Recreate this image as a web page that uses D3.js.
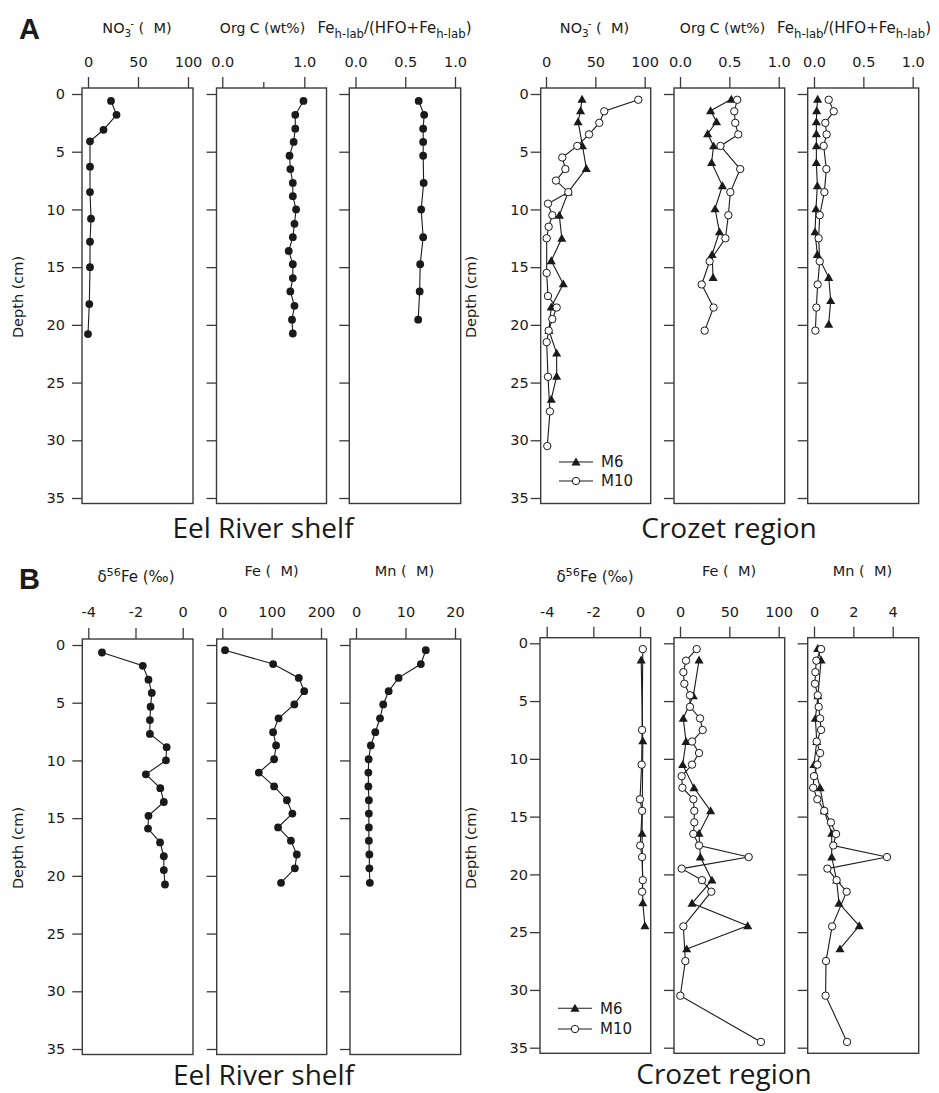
<!DOCTYPE html>
<html><head><meta charset="utf-8">
<script src="https://cdn.jsdelivr.net/npm/d3@7"></script>
<style>
body{margin:0;background:#fff}
svg{display:block}
text{white-space:pre}
</style>
</head><body>
<svg id="c" width="939" height="1093"></svg>
<script>
// ---------------- DATA ([depth cm, value]) ----------------
const depthTicks = [0,5,10,15,20,25,30,35];
const seriesNames = ["M6","M10"];
const regionNames = ["Eel River shelf","Crozet region"];

// Panel A – Eel River shelf
const eelNO3 = [[0.6,23],[1.8,28.5],[3.1,15.5],[4.1,2],[6.3,2],[8.5,2],[10.8,3],[12.8,2],[15.0,2],[18.2,1.3],[20.8,0]];
const eelOrgC = [[0.6,0.99],[1.8,0.89],[3.0,0.89],[4.15,0.87],[5.35,0.82],[6.5,0.83],[7.7,0.86],[8.85,0.86],[10.0,0.9],[11.25,0.88],[12.4,0.86],[13.6,0.81],[14.75,0.86],[15.95,0.86],[17.1,0.83],[18.35,0.88],[19.55,0.85],[20.75,0.86]];
const eelFeRatio = [[0.6,0.635],[1.8,0.69],[3.0,0.68],[4.15,0.68],[5.35,0.68],[7.7,0.685],[10.0,0.66],[12.4,0.68],[14.75,0.65],[17.1,0.645],[19.55,0.63]];

// Panel A – Crozet
const crozetNO3M6 = [[0.45,36.5],[1.45,35],[2.4,32.5],[4.5,37],[6.45,40.8],[8.5,22.5],[10.5,13.5],[12.5,16],[14.45,5.3],[16.45,17.5],[18.45,5.3],[20.5,3],[22.45,10.8],[24.45,10.8],[26.45,5.3]];
const crozetNO3M10 = [[0.5,93.5],[1.5,59],[2.5,54],[3.5,43.6],[4.5,31.7],[5.5,16.5],[6.5,19.6],[7.5,10.1],[8.5,22.6],[9.5,2],[10.5,6.4],[11.5,2.7],[12.5,0.7],[15.5,0.7],[17.5,2],[18.5,10.8],[19.5,6.4],[20.5,2.7],[21.5,0.7],[24.5,2],[27.5,4],[30.5,1.3]];
const crozetOrgCM6 = [[0.45,0.52],[1.45,0.31],[2.4,0.37],[3.45,0.28],[4.5,0.34],[5.95,0.32],[7.95,0.43],[9.95,0.355],[11.95,0.4],[13.9,0.325],[15.9,0.335]];
const crozetOrgCM10 = [[0.5,0.58],[1.5,0.55],[2.5,0.56],[3.5,0.59],[4.5,0.41],[6.5,0.61],[8.5,0.51],[10.5,0.49],[12.5,0.46],[14.5,0.3],[16.5,0.22],[18.5,0.34],[20.5,0.25]];
const crozetFeRatioM6 = [[0.45,0.037],[1.45,0.027],[2.4,0.024],[3.45,0.024],[4.5,0.024],[5.95,0.024],[7.95,0.034],[9.95,0.02],[11.95,0.01],[13.9,0.034],[15.9,0.149],[17.9,0.169],[19.95,0.149]];
const crozetFeRatioM10 = [[0.5,0.149],[1.5,0.2],[2.5,0.115],[3.5,0.128],[4.5,0.098],[6.5,0.125],[8.5,0.105],[10.5,0.058],[12.5,0.047],[14.5,0.058],[16.5,0.037],[18.5,0.024],[20.5,0.014]];

// Panel B – Eel River shelf
const eelD56Fe = [[0.65,-3.42],[1.8,-1.69],[3.0,-1.45],[4.15,-1.31],[5.35,-1.36],[6.5,-1.39],[7.7,-1.39],[8.85,-0.68],[10.0,-0.71],[11.2,-1.56],[12.4,-0.95],[13.6,-0.8],[14.8,-1.45],[15.9,-1.47],[17.1,-0.96],[18.3,-0.8],[19.5,-0.8],[20.75,-0.75]];
const eelFe = [[0.45,5.5],[1.65,103],[2.85,155],[4.0,166],[5.15,146],[6.35,114],[7.55,103],[8.7,109],[9.9,105],[11.05,74],[12.25,105],[13.45,131],[14.6,142],[15.8,113],[16.95,139],[18.15,151],[19.35,147],[20.6,119]];
const eelMn = [[0.45,14.1],[1.65,13.1],[2.85,8.6],[4.0,6.6],[5.15,5.5],[6.35,4.85],[7.55,3.9],[8.7,3.0],[9.9,2.55],[11.05,2.5],[12.25,2.5],[13.45,2.6],[14.6,2.6],[15.8,2.6],[16.95,2.6],[18.15,2.7],[19.35,2.7],[20.6,2.8]];

// Panel B – Crozet
const crozetD56FeM6 = [[1.45,0.05],[8.45,0.12],[16.45,0.09],[22.45,0.12],[24.45,0.21]];
const crozetD56FeM10 = [[0.5,0.12],[7.5,0.09],[10.5,0.07],[13.5,0.0],[14.5,0.09],[17.5,0.01],[18.5,0.09],[20.5,0.12],[21.5,0.09]];
const crozetFeM6 = [[1.45,19.3],[4.55,13.5],[6.5,3.3],[8.5,6.1],[10.5,2.7],[12.5,14.2],[14.5,31],[16.45,19.3],[18.5,20.6],[20.5,32.4],[22.5,12.2],[24.45,68.6],[26.45,6.8]];
const crozetFeM10 = [[0.5,16.9],[1.5,6.1],[2.5,3.4],[3.5,4.4],[4.5,10.1],[5.5,10.1],[6.5,20.3],[7.5,23],[8.5,12.2],[9.5,19.3],[10.5,12.2],[11.5,1.7],[12.5,2.4],[13.5,13.5],[14.5,14.5],[15.5,14.5],[16.5,13.5],[17.5,19.3],[18.5,69.6],[19.5,1.7],[20.5,22.3],[21.5,31.7],[24.5,3.4],[27.5,5.4],[30.5,0.3],[34.5,82]];
const crozetMnM6 = [[0.45,0.19],[1.45,0.36],[4.55,0.2],[6.5,0.07],[8.5,0.14],[10.5,0.0],[12.5,0.31],[14.5,0.52],[16.45,0.9],[18.5,0.9],[20.5,1.15],[22.5,1.27],[24.45,2.3],[26.45,1.32]];
const crozetMnM10 = [[0.5,0.36],[1.5,0.12],[2.5,0.07],[3.5,0.05],[4.5,0.19],[5.5,0.24],[6.5,0.31],[7.5,0.36],[8.5,0.14],[9.5,0.31],[10.5,0.17],[11.5,0.0],[12.5,-0.04],[13.5,0.17],[14.5,0.52],[15.5,0.86],[16.5,1.12],[17.5,0.98],[18.5,3.71],[19.5,0.68],[20.5,1.15],[21.5,1.66],[24.5,0.92],[27.5,0.61],[30.5,0.59],[34.5,1.68]];

// tick values
const ticksNO3 = [0,50,100];
const ticksFrac = [0,0.5,1];
const ticksD56 = [-4,-2,0];
const ticksFeEel = [0,100,200];
const ticksMnEel = [0,10,20];
const ticksFeCro = [0,50,100];
const ticksMnCro = [0,2,4];

// ---------------- LAYOUT ----------------
const svg = d3.select('#c');
const INK = '#1a1a1a', FRAME = '#3a3a3a';
const TICKFONT = "'DejaVu Sans', sans-serif";
const LABFONT = "'Open Sans', sans-serif";

const rowA  = {top:88,    bottom:503.5,  y0:94,    y35:498,    lab:67};
const rowBe = {top:639,   bottom:1054.5, y0:645,   y35:1049,   lab:617};
const rowBc = {top:637.7, bottom:1053.3, y0:643.3, y35:1047.7, lab:617};

const fmtInt = d => String(d);
const fmt1 = d => d.toFixed(1);

const panels = [
  {row:rowA, box:[82,193], xd:[0,100], xr:[88,188], ticks:ticksNO3, fmt:fmtInt, ylab:true, ypad:7, series:[{data:eelNO3, kind:'dot'}]},
  {row:rowA, box:[216.5,326.5], xd:[0,1], xr:[222.3,304.3], ticks:[0,1], minor:[0.5], fmt:fmt1, series:[{data:eelOrgC, kind:'dot'}]},
  {row:rowA, box:[349.3,460.7], xd:[0,1], xr:[355.5,455], ticks:ticksFrac, fmt:fmt1, series:[{data:eelFeRatio, kind:'dot'}]},
  {row:rowA, box:[540.7,650.7], xd:[0,100], xr:[546,644.7], ticks:ticksNO3, fmt:fmtInt, ylab:true, ypad:2, legend:{x:559, y:462, gap:19},
     series:[{data:crozetNO3M6, kind:'tri'},{data:crozetNO3M10, kind:'open'}]},
  {row:rowA, box:[674,784.7], xd:[0,1], xr:[680,778.7], ticks:ticksFrac, fmt:fmt1,
     series:[{data:crozetOrgCM6, kind:'tri'},{data:crozetOrgCM10, kind:'open'}]},
  {row:rowA, box:[807.7,918.7], xd:[0,1], xr:[814,912.7], ticks:ticksFrac, fmt:fmt1,
     series:[{data:crozetFeRatioM6, kind:'tri'},{data:crozetFeRatioM10, kind:'open'}]},

  {row:rowBe, box:[82.3,193], xd:[-4,0], xr:[88.3,182.7], ticks:ticksD56, fmt:fmtInt, ylab:true, ypad:7, series:[{data:eelD56Fe, kind:'dot'}]},
  {row:rowBe, box:[216.7,326.7], xd:[0,200], xr:[222.3,321], ticks:ticksFeEel, fmt:fmtInt, series:[{data:eelFe, kind:'dot'}]},
  {row:rowBe, box:[350,460.7], xd:[0,20], xr:[356,455], ticks:ticksMnEel, fmt:fmtInt, series:[{data:eelMn, kind:'dot'}]},
  {row:rowBc, box:[540,650.7], xd:[-4,0], xr:[546.7,640], ticks:ticksD56, fmt:fmtInt, ylab:true, ypad:2, legend:{x:558, y:1008.3, gap:20.7},
     series:[{data:crozetD56FeM6, kind:'tri'},{data:crozetD56FeM10, kind:'open'}]},
  {row:rowBc, box:[674,784.7], xd:[0,100], xr:[680,778.7], ticks:ticksFeCro, fmt:fmtInt,
     series:[{data:crozetFeM6, kind:'tri'},{data:crozetFeM10, kind:'open'}]},
  {row:rowBc, box:[807.7,918.7], xd:[0,4], xr:[814,892.7], ticks:ticksMnCro, fmt:fmtInt,
     series:[{data:crozetMnM6, kind:'tri'},{data:crozetMnM10, kind:'open'}]},
];

const triSym = d3.symbol().type(d3.symbolTriangle).size(36);

function styleAxis(g){
  g.select('.domain').remove();
  g.selectAll('.tick line').attr('stroke', FRAME).attr('stroke-width', 1.3);
  g.selectAll('.tick text').attr('fill', INK).style('font-family', TICKFONT).style('font-size','14.5px');
}

function drawMarkers(g, kind, pts){
  if (kind === 'tri') {
    g.selectAll(null).data(pts).join('path')
      .attr('d', triSym).attr('transform', d => `translate(${d[0]},${d[1]+0.8})`)
      .attr('fill', INK);
  } else {
    g.selectAll(null).data(pts).join('circle')
      .attr('cx', d => d[0]).attr('cy', d => d[1]).attr('r', kind === 'dot' ? 3.9 : 3.7)
      .attr('fill', kind === 'dot' ? INK : '#fff')
      .attr('stroke', INK).attr('stroke-width', kind === 'dot' ? 0 : 1);
  }
}

panels.forEach(p => {
  const g = svg.append('g');
  const x = d3.scaleLinear().domain(p.xd).range(p.xr);
  const y = d3.scaleLinear().domain([0,35]).range([p.row.y0, p.row.y35]);

  const ta = g.append('g').attr('transform', `translate(0,${p.row.top})`)
    .call(d3.axisTop(x).tickValues(p.ticks).tickSize(11)
      .tickPadding(p.row.top - p.row.lab - 11).tickFormat(p.fmt));
  ta.selectAll('.tick text').attr('dy', '0em');
  styleAxis(ta);
  if (p.minor) {
    const ma = g.append('g').attr('transform', `translate(0,${p.row.top})`)
      .call(d3.axisTop(x).tickValues(p.minor).tickSize(6).tickFormat(() => ''));
    styleAxis(ma);
  }
  const la = g.append('g').attr('transform', `translate(${p.box[0]},0)`)
    .call(d3.axisLeft(y).tickValues(depthTicks).tickSize(10)
      .tickPadding(p.ypad || 3).tickFormat(p.ylab ? fmtInt : () => ''));
  styleAxis(la);

  g.append('rect').attr('x', p.box[0]).attr('y', p.row.top)
    .attr('width', p.box[1] - p.box[0]).attr('height', p.row.bottom - p.row.top)
    .attr('fill', 'none').attr('stroke', FRAME).attr('stroke-width', 1.4);

  const line = d3.line().x(d => x(d[1])).y(d => y(d[0]));
  p.series.forEach(s => {
    g.append('path').datum(s.data).attr('d', line)
      .attr('fill', 'none').attr('stroke', INK).attr('stroke-width', 1.1);
  });
  ['dot','tri','open'].forEach(k => {
    p.series.filter(s => s.kind === k).forEach(s => {
      drawMarkers(g.append('g'), k, s.data.map(d => [x(d[1]), y(d[0])]));
    });
  });

  if (p.legend) {
    const L = p.legend;
    ['tri','open'].forEach((k, i) => {
      const yy = L.y + i * L.gap;
      g.append('line').attr('x1', L.x).attr('x2', L.x + 34).attr('y1', yy).attr('y2', yy)
        .attr('stroke', INK).attr('stroke-width', 1.1);
      drawMarkers(g.append('g'), k, [[L.x + 17, yy]]);
      g.append('text').attr('x', L.x + 42).attr('y', yy).attr('dy', '0.36em')
        .attr('fill', INK).style('font-family', TICKFONT).style('font-size', '15px')
        .text(seriesNames[i]);
    });
  }
});

// ---------------- TEXT ----------------
function rich(x, y, parts, size, scale){
  const sc = scale || 0.72;
  const t = svg.append('text').attr('x', x).attr('y', y).attr('text-anchor', 'middle')
    .attr('fill', INK).style('font-family', TICKFONT).style('font-size', size + 'px');
  let off = 0;
  parts.forEach(pt => {
    const target = pt.sub ? size * 0.3 : pt.sup ? -size * 0.42 : 0;
    const ts = t.append('tspan').text(pt.t).attr('dy', target - off);
    if (pt.dx) ts.attr('dx', pt.dx);
    if (pt.sub || pt.sup) ts.style('font-size', (size * sc) + 'px');
    off = target;
  });
  return t;
}
const no3 = [{t:'NO'},{t:'3',sub:true},{t:'-',sup:true,dx:-1},{t:' (  M)'}];
const orgc = [{t:'Org C (wt%)'}];
const feR = [{t:'Fe'},{t:'h-lab',sub:true},{t:'/(HFO+Fe'},{t:'h-lab',sub:true},{t:')'}];
const d56 = [{t:'δ'},{t:'56',sup:true},{t:'Fe (‰)'}];
const feT = [{t:'Fe (  M)'}];
const mnT = [{t:'Mn (  M)'}];

rich(137, 33, no3, 14.5);
rich(262.5, 33, orgc, 14);
rich(394.5, 33, feR, 15, 0.78);
rich(594.5, 33, no3, 14.5);
rich(722.5, 33, orgc, 14);
rich(854, 33, feR, 15, 0.78);

rich(136, 582, d56, 15, 0.75);
rich(271.5, 575.5, feT, 14.5);
rich(404.5, 575.5, mnT, 14.5);
rich(595, 582, d56, 15, 0.75);
rich(729, 575.5, feT, 14.5);
rich(862.5, 575.5, mnT, 14.5);

[[18,297],[471,297],[18,848],[471,848]].forEach(([cx,cy]) => {
  svg.append('text').attr('transform', `translate(${cx},${cy}) rotate(-90)`)
    .attr('text-anchor', 'middle').attr('dy', '0.35em').attr('fill', INK)
    .style('font-family', TICKFONT).style('font-size', '14.5px').text('Depth (cm)');
});

[[263,538,0],[729,538,1],[263.5,1085,0],[724,1084,1]].forEach(([cx,by,i]) => {
  svg.append('text').attr('x', cx).attr('y', by).attr('text-anchor', 'middle')
    .attr('fill', INK).style('font-family', LABFONT).style('font-size', '28px')
    .text(regionNames[i]);
});

[['A',39],['B',589]].forEach(([l,by]) => {
  svg.append('text').attr('x', 19).attr('y', by).attr('fill', INK)
    .style('font-family', "'Liberation Sans', Arial, sans-serif").style('font-weight', 'bold')
    .style('font-size', '29px').text(l);
});
</script>
</body></html>
